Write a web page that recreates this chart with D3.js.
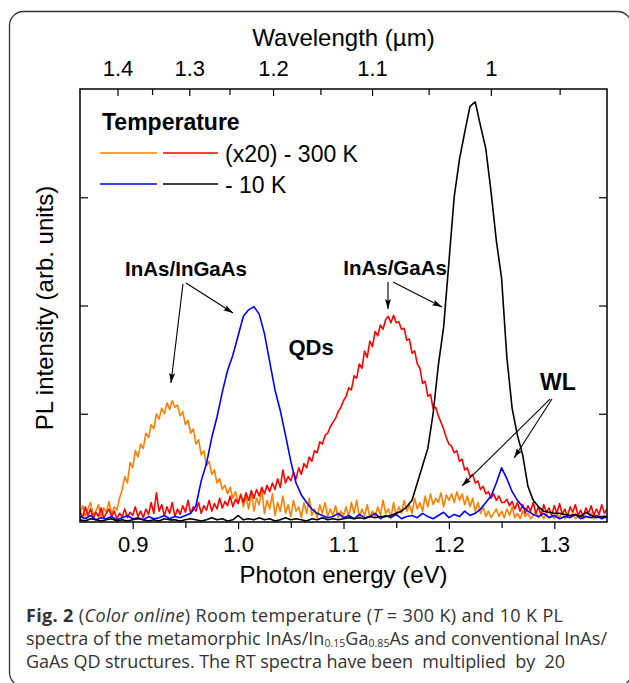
<!DOCTYPE html>
<html>
<head>
<meta charset="utf-8">
<script src="https://cdn.jsdelivr.net/npm/d3@7"></script>
<style>
  body { margin: 0; background: #fff; }
  svg { display: block; }
</style>
</head>
<body>
<svg id="chart" width="629" height="683"></svg>
<script>
// photon energy samples (eV), fine grid for the noisy RT spectra
var energyFine = [
  0.8500,0.8525,0.8550,0.8575,0.8600,0.8625,0.8650,0.8675,0.8700,0.8725,
  0.8750,0.8775,0.8800,0.8825,0.8850,0.8875,0.8900,0.8925,0.8950,0.8975,
  0.9000,0.9025,0.9050,0.9075,0.9100,0.9125,0.9150,0.9175,0.9200,0.9225,
  0.9250,0.9275,0.9300,0.9325,0.9350,0.9375,0.9400,0.9425,0.9450,0.9475,
  0.9500,0.9525,0.9550,0.9575,0.9600,0.9625,0.9650,0.9675,0.9700,0.9725,
  0.9750,0.9775,0.9800,0.9825,0.9850,0.9875,0.9900,0.9925,0.9950,0.9975,
  1.0000,1.0025,1.0050,1.0075,1.0100,1.0125,1.0150,1.0175,1.0200,1.0225,
  1.0250,1.0275,1.0300,1.0325,1.0350,1.0375,1.0400,1.0425,1.0450,1.0475,
  1.0500,1.0525,1.0550,1.0575,1.0600,1.0625,1.0650,1.0675,1.0700,1.0725,
  1.0750,1.0775,1.0800,1.0825,1.0850,1.0875,1.0900,1.0925,1.0950,1.0975,
  1.1000,1.1025,1.1050,1.1075,1.1100,1.1125,1.1150,1.1175,1.1200,1.1225,
  1.1250,1.1275,1.1300,1.1325,1.1350,1.1375,1.1400,1.1425,1.1450,1.1475,
  1.1500,1.1525,1.1550,1.1575,1.1600,1.1625,1.1650,1.1675,1.1700,1.1725,
  1.1750,1.1775,1.1800,1.1825,1.1850,1.1875,1.1900,1.1925,1.1950,1.1975,
  1.2000,1.2025,1.2050,1.2075,1.2100,1.2125,1.2150,1.2175,1.2200,1.2225,
  1.2250,1.2275,1.2300,1.2325,1.2350,1.2375,1.2400,1.2425,1.2450,1.2475,
  1.2500,1.2525,1.2550,1.2575,1.2600,1.2625,1.2650,1.2675,1.2700,1.2725,
  1.2750,1.2775,1.2800,1.2825,1.2850,1.2875,1.2900,1.2925,1.2950,1.2975,
  1.3000,1.3025,1.3050,1.3075,1.3100,1.3125,1.3150,1.3175,1.3200,1.3225,
  1.3250,1.3275,1.3300,1.3325,1.3350,1.3375,1.3400,1.3425,1.3450,1.3475,
  1.3500
];

// coarse grid for the 10 K spectra
var energyCoarse = [
  0.850,0.855,0.860,0.865,0.870,0.875,0.880,0.885,0.890,0.895,
  0.900,0.905,0.910,0.915,0.920,0.925,0.930,0.935,0.940,0.945,
  0.950,0.955,0.960,0.965,0.970,0.975,0.980,0.985,0.990,0.995,
  1.000,1.005,1.010,1.015,1.020,1.025,1.030,1.035,1.040,1.045,
  1.050,1.055,1.060,1.065,1.070,1.075,1.080,1.085,1.090,1.095,
  1.100,1.105,1.110,1.115,1.120,1.125,1.130,1.135,1.140,1.145,
  1.150,1.155,1.160,1.165,1.170,1.175,1.180,1.185,1.190,1.195,
  1.200,1.205,1.210,1.215,1.220,1.225,1.230,1.235,1.240,1.245,
  1.250,1.255,1.260,1.265,1.270,1.275,1.280,1.285,1.290,1.295,
  1.300,1.305,1.310,1.315,1.320,1.325,1.330,1.335,1.340,1.345,
  1.350
];

// 300 K InAs/InGaAs (x20), orange
var rtInGaAs = [
  0.08,0.15,0.05,0.12,0.18,0.06,0.10,0.16,0.04,0.13,0.09,0.19,0.07,0.14,0.11,0.22,
  0.30,0.42,0.36,0.55,0.50,0.66,0.60,0.72,0.68,0.82,
  0.78,0.90,0.86,1.00,0.95,1.05,1.00,1.10,1.04,1.12,
  1.06,1.08,0.98,1.02,0.90,0.94,0.82,0.86,0.72,0.76,
  0.62,0.66,0.52,0.56,0.44,0.48,0.36,0.40,0.30,0.34,
  0.26,0.32,0.22,0.28,0.18,
  0.26,0.14,0.24,0.12,0.28,0.10,0.22,0.16,0.30,0.08,
  0.20,0.12,0.26,0.06,0.18,0.10,0.24,0.08,0.16,0.05,
  0.20,0.10,0.14,0.04,0.18,0.08,0.22,0.06,0.12,0.04,
  0.16,0.08,0.18,0.05,0.12,0.06,0.15,0.04,0.10,0.06,
  0.14,0.05,0.18,0.08,0.20,0.04,0.12,0.06,0.16,0.04,
  0.10,0.05,0.14,0.06,0.20,0.08,0.12,0.04,0.18,0.06,
  0.14,0.08,0.20,0.10,0.16,0.08,0.22,0.12,0.18,0.10,
  0.24,0.14,0.26,0.16,0.22,0.18,0.27,0.14,0.25,0.20,
  0.26,0.18,0.28,0.20,0.26,0.16,0.24,0.14,0.22,0.10,
  0.18,0.08,0.14,0.05,0.10,0.04,0.08,0.12,0.05,0.10,
  0.04,0.12,0.06,0.14,0.04,0.08,0.03,0.10,0.05,0.08,
  0.03,0.06,0.10,0.04,0.07,0.03,0.08,0.04,0.06,0.03,
  0.07,0.04,0.09,0.03,0.06,0.04,0.08,0.03,0.05,0.07,
  0.03,0.06,0.04,0.08,0.03,0.05,0.07,0.03,0.06,0.04
];

// 300 K InAs/GaAs (x20), red
var rtGaAs = [
  0.10,0.04,0.14,0.06,0.12,0.03,0.09,0.05,0.13,0.04,
  0.08,0.12,0.05,0.10,0.03,0.08,0.05,0.12,0.04,0.09,
  0.06,0.14,0.05,0.10,0.04,0.12,0.07,0.18,0.08,0.27,
  0.10,0.16,0.06,0.14,0.08,0.18,0.05,0.12,0.07,0.15,
  0.09,0.20,0.08,0.14,0.10,0.18,0.08,0.15,0.11,0.20,
  0.10,0.17,0.12,0.22,0.13,0.19,0.15,0.24,0.14,0.21,
  0.17,
  0.25,0.18,0.27,0.20,0.29,0.22,0.30,0.24,0.32,0.26,
  0.34,0.28,0.36,0.30,0.40,0.32,0.48,0.36,0.42,0.38,
  0.46,0.40,0.50,0.44,0.54,0.50,0.60,0.56,0.66,0.64,
  0.74,0.72,0.80,0.82,0.88,0.92,0.96,1.02,1.06,1.12,
  1.16,1.24,1.22,1.35,1.33,1.46,1.42,1.58,1.52,1.67,
  1.62,1.76,1.72,1.82,1.78,1.87,1.90,1.84,1.91,1.84,
  1.85,1.78,1.79,1.68,1.69,1.56,1.58,1.46,1.42,1.28,
  1.30,1.16,1.18,1.05,1.06,0.98,0.92,0.86,0.78,0.72,
  0.70,0.64,0.66,0.56,0.58,0.48,0.50,0.42,0.44,0.36,
  0.38,0.30,0.33,0.26,0.28,0.22,0.26,0.20,0.24,0.18,
  0.18,0.21,0.15,0.19,0.12,0.18,0.10,0.16,0.08,0.15,
  0.10,0.18,0.08,0.14,0.06,0.16,0.09,0.13,0.06,0.15,
  0.08,0.17,0.07,0.12,0.05,0.14,0.09,0.16,0.06,0.11,
  0.05,0.13,0.08,0.15,0.06,0.12,0.07,0.16,0.08,0.12
];

// 10 K InAs/InGaAs, blue
var ltInGaAs = [
  0.05,0.03,0.06,0.02,0.04,0.03,0.05,0.02,0.04,0.06,
  0.03,0.04,0.02,0.05,0.03,0.04,0.06,0.03,0.05,0.04,
  0.06,0.08,0.15,0.38,0.54,0.78,0.97,1.20,1.40,1.54,
  1.72,1.90,1.96,1.99,1.92,1.74,1.48,1.22,1.03,0.80,
  0.56,0.36,0.25,0.18,0.12,0.08,0.06,0.04,0.05,0.08,
  0.04,0.06,0.03,0.07,0.04,0.05,0.08,0.03,0.06,0.04,
  0.07,0.03,0.05,0.06,0.04,0.08,0.05,0.03,0.06,0.09,
  0.04,0.07,0.05,0.10,0.06,0.08,0.12,0.18,0.24,0.36,
  0.50,0.40,0.28,0.20,0.14,0.10,0.07,0.05,0.08,0.04,
  0.06,0.03,0.05,0.04,0.07,0.03,0.05,0.04,0.06,0.03,
  0.05
];

// 10 K InAs/GaAs, black
var ltGaAs = [
  0.02,0.01,0.03,0.02,0.01,0.02,0.03,0.01,0.02,0.01,
  0.02,0.03,0.02,0.01,0.02,0.01,0.03,0.02,0.02,0.01,
  0.02,0.03,0.02,0.01,0.02,0.04,0.02,0.03,0.01,0.02,
  0.06,0.02,0.03,0.02,0.04,0.02,0.03,0.01,0.02,0.04,
  0.02,0.03,0.02,0.01,0.03,0.02,0.04,0.02,0.03,0.02,
  0.03,0.04,0.03,0.04,0.03,0.05,0.04,0.05,0.05,
  0.06,0.08,0.10,0.14,0.20,0.36,0.52,0.68,1.00,1.45,
  1.80,2.40,3.00,3.35,3.60,3.84,3.88,3.66,3.45,3.05,
  2.60,2.25,1.52,1.05,0.80,0.62,0.33,0.20,0.14,0.10,
  0.09,0.08,0.08,0.07,0.06,0.07,0.05,0.09,0.06,0.04,
  0.05,0.05
];

var energyTicks = [0.9, 1.0, 1.1, 1.2, 1.3];
var energyMinor = [0.95, 1.05, 1.15, 1.25];
var wavelengthTicks = [1.4, 1.3, 1.2, 1.1, 1.0];
var wavelengthLabels = ["1.4", "1.3", "1.2", "1.1", "1"];
var wavelengthMinor = [1.35, 1.25, 1.15, 1.05, 0.95];
var intensityTicks = [1, 2, 3];
var hc = 1.2398; // eV * um

var svg = d3.select("#chart");
var margin = {top: 89, right: 22, bottom: 161, left: 80},
    width = 629 - margin.left - margin.right,
    height = 683 - margin.top - margin.bottom;
var font = "'Liberation Sans', Arial, sans-serif";

svg.append("rect").attr("width", 629).attr("height", 683).attr("fill", "#fff");

// rounded figure border
svg.append("rect")
    .attr("x", 9.5).attr("y", 11.5)
    .attr("width", 622).attr("height", 675)
    .attr("rx", 14)
    .attr("fill", "none")
    .attr("stroke", "#333")
    .attr("stroke-width", 1.3);

var x = d3.scaleLinear().domain([0.85, 1.35]).range([0, width]);
var y = d3.scaleLinear().domain([0, 4]).range([height, 0]);

var g = svg.append("g")
    .attr("transform", "translate(" + margin.left + "," + margin.top + ")");

var defs = svg.append("defs");
defs.append("clipPath").attr("id", "plot-clip")
    .append("rect").attr("width", width).attr("height", height);
defs.append("marker")
    .attr("id", "arrow")
    .attr("viewBox", "0 0 10 6")
    .attr("refX", 10).attr("refY", 3)
    .attr("markerWidth", 10).attr("markerHeight", 6)
    .attr("markerUnits", "userSpaceOnUse")
    .attr("orient", "auto")
    .append("path")
    .attr("d", "M0,0 L10,3 L0,6 L2,3 Z")
    .attr("fill", "#000");

// spectra
var series = [
    {e: energyFine, v: rtInGaAs, color: "#ff8000"},
    {e: energyFine, v: rtGaAs, color: "#ff0000"},
    {e: energyCoarse, v: ltInGaAs, color: "#0000ff"},
    {e: energyCoarse, v: ltGaAs, color: "#000000"}
];

var line = d3.line()
    .x(function (d) { return x(d[0]); })
    .y(function (d) { return y(d[1]); });

var plot = g.append("g").attr("clip-path", "url(#plot-clip)");
series.forEach(function (s) {
    var pts = s.e.map(function (e, i) { return [e, s.v[i]]; });
    plot.append("path")
        .datum(pts)
        .attr("d", line)
        .attr("fill", "none")
        .attr("stroke", s.color)
        .attr("stroke-width", 1.6)
        .attr("stroke-linejoin", "round");
});

// axes
function styleAxis(sel, size) {
    sel.select(".domain").remove();
    sel.selectAll(".tick line").attr("stroke", "#000").attr("stroke-width", 1.2);
    sel.selectAll("text")
        .attr("fill", "#000")
        .style("font-family", font)
        .style("font-size", size + "px");
}

g.append("g")
    .attr("transform", "translate(0," + height + ")")
    .call(d3.axisBottom(x).tickValues(energyTicks).tickSize(7).tickPadding(7)
        .tickFormat(d3.format(".1f")))
    .call(styleAxis, 22);
g.append("g")
    .attr("transform", "translate(0," + height + ")")
    .call(d3.axisBottom(x).tickValues(energyMinor).tickSize(6).tickFormat(""))
    .call(styleAxis, 22);

g.append("g")
    .call(d3.axisTop(x)
        .tickValues(wavelengthTicks.map(function (l) { return hc / l; }))
        .tickSize(-7).tickPadding(13)
        .tickFormat(function (d, i) { return wavelengthLabels[i]; }))
    .call(styleAxis, 22);
g.append("g")
    .call(d3.axisTop(x)
        .tickValues(wavelengthMinor.map(function (l) { return hc / l; }))
        .tickSize(-6).tickFormat(""))
    .call(styleAxis, 22);

g.append("g")
    .call(d3.axisLeft(y).tickValues(intensityTicks).tickSize(-8).tickFormat(""))
    .call(styleAxis, 22);
g.append("g")
    .attr("transform", "translate(" + width + ",0)")
    .call(d3.axisRight(y).tickValues(intensityTicks).tickSize(-8).tickFormat(""))
    .call(styleAxis, 22);

g.append("rect")
    .attr("width", width).attr("height", height)
    .attr("fill", "none").attr("stroke", "#000").attr("stroke-width", 1.5);

// axis titles
svg.append("text")
    .attr("x", margin.left + width / 2).attr("y", 583)
    .attr("text-anchor", "middle")
    .style("font-family", font).style("font-size", "24px")
    .text("Photon energy (eV)");
svg.append("text")
    .attr("x", margin.left + width / 2).attr("y", 46)
    .attr("text-anchor", "middle")
    .style("font-family", font).style("font-size", "24px")
    .text("Wavelength (\u00b5m)");
svg.append("text")
    .attr("transform", "translate(53,308) rotate(-90)")
    .attr("text-anchor", "middle")
    .style("font-family", font).style("font-size", "24px")
    .text("PL intensity (arb. units)");

// legend
var legend = svg.append("g");
legend.append("text")
    .attr("x", 102).attr("y", 130)
    .style("font-family", font).style("font-size", "23px").style("font-weight", "bold")
    .text("Temperature");
var legendRows = [
    {colors: ["#ff8000", "#ff0000"], label: "(x20) - 300 K", y: 153},
    {colors: ["#0000ff", "#000000"], label: "- 10 K", y: 184}
];
legendRows.forEach(function (r) {
    r.colors.forEach(function (c, i) {
        legend.append("line")
            .attr("x1", 100 + i * 63).attr("x2", 157 + i * 61)
            .attr("y1", r.y).attr("y2", r.y)
            .attr("stroke", c).attr("stroke-width", 1.6);
    });
    legend.append("text")
        .attr("x", 225).attr("y", r.y + 8.5)
        .style("font-family", font).style("font-size", "23px")
        .text(r.label);
});

// annotations (data coordinates)
var labels = [
    {text: "InAs/InGaAs", e: 0.9506, v: 2.27, size: 20.5},
    {text: "InAs/GaAs", e: 1.1489, v: 2.28, size: 20.5},
    {text: "QDs", e: 1.0692, v: 1.543, size: 22},
    {text: "WL", e: 1.3035, v: 1.219, size: 23}
];
labels.forEach(function (l) {
    g.append("text")
        .attr("x", x(l.e)).attr("y", y(l.v))
        .attr("text-anchor", "middle")
        .style("font-family", font).style("font-size", l.size + "px")
        .style("font-weight", "bold")
        .text(l.text);
});

var arrows = [
    [0.9477, 2.200, 0.9363, 1.284],
    [0.9506, 2.208, 0.9952, 1.930],
    [1.1422, 2.217, 1.1422, 1.968],
    [1.1470, 2.217, 1.1935, 1.986],
    [1.2959, 1.136, 1.2124, 0.333],
    [1.2978, 1.136, 1.2618, 0.591]
];
arrows.forEach(function (a) {
    g.append("line")
        .attr("x1", x(a[0])).attr("y1", y(a[1]))
        .attr("x2", x(a[2])).attr("y2", y(a[3]))
        .attr("stroke", "#000").attr("stroke-width", 1.1)
        .attr("marker-end", "url(#arrow)");
});

// caption
var cap = svg.append("g")
    .style("font-family", "'Open Sans', 'Noto Sans', sans-serif")
    .style("font-size", "18px")
    .attr("fill", "#333");
var l1 = cap.append("text").attr("x", 26).attr("y", 622)
    .attr("textLength", 537).attr("lengthAdjust", "spacing");
l1.append("tspan").style("font-weight", "bold").text("Fig. 2");
l1.append("tspan").text(" (");
l1.append("tspan").style("font-style", "italic").text("Color online");
l1.append("tspan").text(") Room temperature (");
l1.append("tspan").style("font-style", "italic").text("T");
l1.append("tspan").text(" = 300 K) and 10 K PL");

var l2 = cap.append("text").attr("x", 26).attr("y", 645)
    .attr("textLength", 581).attr("lengthAdjust", "spacing");
l2.append("tspan").text("spectra of the metamorphic InAs/In");
l2.append("tspan").attr("dy", 2).style("font-size", "10.5px").text("0.15");
l2.append("tspan").attr("dy", -2).text("Ga");
l2.append("tspan").attr("dy", 2).style("font-size", "10.5px").text("0.85");
l2.append("tspan").attr("dy", -2).text("As and conventional InAs/");

cap.append("text").attr("x", 26).attr("y", 668)
    .attr("textLength", 539).attr("lengthAdjust", "spacing")
    .style("white-space", "pre")
    .text("GaAs QD structures. The RT spectra have been  multiplied  by  20");
</script>
</body>
</html>
